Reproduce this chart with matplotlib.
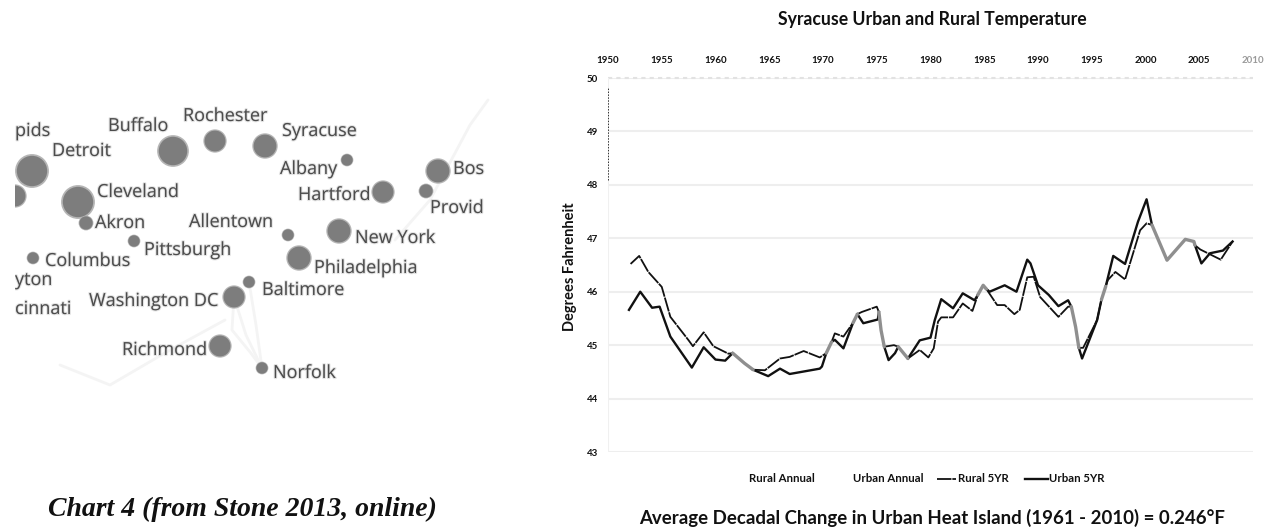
import numpy as np
import matplotlib
matplotlib.use("Agg")
import matplotlib.pyplot as plt
import matplotlib.patheffects as pe

W, H = 1273, 527
nan = np.nan

# left panel, base map positions
city_x = [32, 15, 173, 215, 78, 86, 134, 33, 234, 220, 265, 347, 383, 438, 426, 288, 339, 299, 249, 262]
city_y = [171, 196, 151, 141, 202, 223, 241, 258, 297, 346, 146, 160, 192, 171, 191, 235, 231, 258, 282, 368]
city_r = [16, 11, 15, 11, 16, 7, 6, 6, 11, 11, 12, 6, 11, 12, 7, 6, 12, 12, 6, 6]
label_names = ["pids", "Detroit", "Buffalo", "Rochester", "Syracuse", "Albany", "Hartford", "Bos",
               "Provid", "Cleveland", "Akron", "Allentown", "Pittsburgh", "Columbus", "yton",
               "cinnati", "Washington DC", "Baltimore", "New York", "Philadelphia", "Richmond", "Norfolk"]
label_x = [15, 52, 108, 183, 282, 280, 298, 453, 430, 97, 95, 189, 144, 45, 15, 15, 89, 262, 355, 314, 122, 273]
label_y = [131, 151, 126, 116, 131, 169, 195, 169, 208, 192, 223, 222, 250, 261, 280, 309, 301, 290, 238, 268, 350, 373]
river_x = [[234, 246, 262], [234, 232, 250, 262], [249, 256, 262], [60, 110, 170, 225], [395, 430, 470, 488]]
river_y = [[297, 335, 368], [297, 330, 352, 368], [282, 325, 368], [365, 385, 350, 320], [240, 200, 125, 100]]

# right panel
years = np.arange(1950, 2011, 5)
temps = np.arange(43, 51)
rural_year = [1952.1, 1952.9, 1953.75, 1955.0, 1955.8, 1957.5, 1957.9, 1958.9, 1959.8, 1961.2, 1961.6, nan,
              1963.5, 1964.6, 1966, 1966.9, 1968.2, 1969.7, 1970.3, nan,
              1970.8, 1971.1, 1971.9, 1972.8, nan, 1973.2, 1973.6, 1975, 1975.2, nan,
              1975.7, 1976.6, 1977, nan, 1977.9, 1979, 1979.8, 1980.3, 1980.7, 1981, 1982.1, 1983, 1983.9, 1984.4, nan,
              1985.2, 1986.2, 1986.9, 1987.8, 1988.3, 1989, 1989.6, 1990.2, 1991.9, 1992.8, 1993.1, nan,
              1993.8, 1994.2, 1995.5, 1995.9, nan,
              1996.3, 1996.5, 1997.2, 1998.1, 1999.5, 2000.1, 2000.6, nan,
              2004.6, 2005.1, 2007, 2008.1]
rural_temp = [46.52, 46.67, 46.37, 46.09, 45.53, 45.09, 44.98, 45.24, 44.98, 44.84, 44.85, nan,
              44.54, 44.53, 44.75, 44.78, 44.89, 44.77, 44.85, nan,
              45.06, 45.22, 45.16, 45.42, nan, 45.58, 45.62, 45.72, 45.62, nan,
              44.97, 45.0, 44.97, nan, 44.75, 44.91, 44.77, 44.94, 45.44, 45.52, 45.52, 45.78, 45.64, 45.94, nan,
              46.05, 45.75, 45.75, 45.58, 45.66, 46.27, 46.28, 45.9, 45.53, 45.72, 45.72, nan,
              44.95, 44.95, 45.47, 45.85, nan,
              46.1, 46.22, 46.37, 46.23, 47.15, 47.28, 47.25, nan,
              46.87, 46.79, 46.6, 46.94]
urban_year = [1951.95, 1953, 1954.1, 1954.8, 1955.8, 1957.8, 1958.9, 1960, 1960.9, 1961.6, nan,
              1963.5, 1964.9, 1966, 1966.9, 1969.7, 1969.9, 1970.3, nan,
              1970.8, 1971.1, 1971.9, 1972.8, nan, 1973.2, 1973.75, 1975.1, 1975.2, nan,
              1975.7, 1976.1, 1976.7, 1977, nan, 1977.9, 1979, 1980, 1980.4, 1981, 1982.1, 1983, 1984.1, 1984.4, nan,
              1985.2, 1985.5, 1986.9, 1988, 1989, 1989.3, 1990, 1991, 1991.9, 1992.8, 1993.1, nan,
              1993.8, 1994.1, 1995.5, 1995.9, nan,
              1996.3, 1997, 1998.1, 1999.3, 2000.1, 2000.6, nan,
              2004.6, 2005.2, 2006, 2007.2, 2008.1]
urban_temp = [45.66, 46.0, 45.70, 45.72, 45.16, 44.58, 44.96, 44.73, 44.71, 44.85, nan,
              44.54, 44.42, 44.56, 44.46, 44.56, 44.6, 44.85, nan,
              45.06, 45.1, 44.94, 45.42, nan, 45.58, 45.41, 45.48, 45.62, nan,
              44.97, 44.72, 44.85, 44.97, nan, 44.75, 45.09, 45.14, 45.47, 45.86, 45.69, 45.97, 45.84, 45.94, nan,
              46.05, 46.0, 46.12, 46.0, 46.6, 46.53, 46.12, 45.94, 45.73, 45.84, 45.72, nan,
              44.95, 44.75, 45.47, 45.85, nan,
              46.1, 46.67, 46.52, 47.31, 47.73, 47.25, nan,
              46.87, 46.53, 46.72, 46.77, 46.94]
# stretches where the two curves run together
both_year = [1961.6, 1962.7, 1963.5, nan, 1970.3, 1970.8, nan, 1972.8, 1973.2, nan, 1975.2, 1975.4, 1975.7, nan,
             1977, 1977.9, nan, 1984.4, 1984.9, 1985.2, nan, 1993.1, 1993.5, 1993.8, nan, 1995.9, 1996.3, nan,
             2000.6, 2002, 2003.7, 2004.5, 2004.6]
both_temp = [44.85, 44.66, 44.54, nan, 44.85, 45.06, nan, 45.42, 45.58, nan, 45.62, 45.28, 44.97, nan,
             44.97, 44.75, nan, 45.94, 46.12, 46.05, nan, 45.72, 45.34, 44.95, nan, 45.85, 46.1, nan,
             47.25, 46.59, 46.98, 46.94, 46.87]

BOLD = dict(family=["Lato", "DejaVu Sans"], fontweight="bold", color="#111111")
DASH = (0, (8, 0.5))

fig = plt.figure(figsize=(W / 100, H / 100), dpi=100)


def px_axes(left, top, right, bottom):
    return fig.add_axes([left / W, 1 - bottom / H, (right - left) / W, (bottom - top) / H])


# scanned map on the left
m = px_axes(15, 90, 490, 400)
m.set_xlim(15, 490)
m.set_ylim(400, 90)
m.axis("off")
for xs, ys in zip(river_x, river_y):
    m.plot(xs, ys, color="#f4f4f4", lw=2, solid_capstyle="round")
sizes = (2 * np.array(city_r) * 0.72) ** 2
m.scatter(city_x, city_y, s=sizes * 1.12, color="#b5b5b5", linewidths=0, zorder=3)
m.scatter(city_x, city_y, s=sizes * 0.9, color="#7d7d7d", linewidths=0, zorder=4)
for name, x, y in zip(label_names, label_x, label_y):
    m.text(x, y, name, ha="left", va="center", fontsize=13, color="#4c4c4c", family="Open Sans", zorder=5,
           clip_on=True, path_effects=[pe.withStroke(linewidth=1.6, foreground="#c8c8c8", alpha=0.5)])

# temperature chart
ax = px_axes(608, 78, 1253, 452)
ax.set_xlim(1950, 2010)
ax.set_ylim(43, 50)
for s in ax.spines.values():
    s.set_visible(False)
ax.tick_params(length=0)
ax.set_xticks(years)
ax.xaxis.tick_top()
ax.set_xticklabels([str(y) for y in years], fontsize=7, **BOLD)
ax.get_xticklabels()[-1].set_color("#9a9a9a")
ax.tick_params(axis="x", pad=9.5)
ax.set_yticks(temps)
ax.set_yticklabels([str(t) for t in temps], fontsize=7, **BOLD)
ax.tick_params(axis="y", pad=7)
ax.grid(axis="y", color="#eeeeee", lw=1.5)
ax.axhline(50, color="#e2e2e2", lw=1.5, ls=(0, (2, 2)), clip_on=False)
ax.axvline(1950, color="#f0f0f0", lw=1.5)
ax.plot([1950, 1950], [48.1, 49.83], color="#333333", lw=0.7, ls=(0, (1.5, 1.5)))
ax.plot(rural_year, rural_temp, color="#111111", lw=1.3, ls=DASH, label="Rural 5YR")
ax.plot(urban_year, urban_temp, color="#111111", lw=1.7, label="Urban 5YR")
ax.plot(both_year, both_temp, color="#8f8f8f", lw=2.4, solid_capstyle="round")

# page level text, in reference pixels
page = px_axes(0, 0, W, H)
page.set_xlim(0, W)
page.set_ylim(H, 0)
page.axis("off")
page.patch.set_alpha(0)
page.text(932, 19, "Syracuse Urban and Rural Temperature", ha="center", va="center", fontsize=12.7, **BOLD)
page.text(570, 267, "Degrees Fahrenheit", ha="center", va="center", rotation=90, fontsize=10.5, **BOLD)
page.text(749, 479, "Rural Annual", ha="left", va="center", fontsize=8.2, **BOLD)
page.text(853, 479, "Urban Annual", ha="left", va="center", fontsize=8.2, **BOLD)
page.plot([937, 956], [479, 479], color="#111111", lw=1.3, ls=DASH)
page.text(958, 479, "Rural 5YR", ha="left", va="center", fontsize=8.2, **BOLD)
page.plot([1025, 1048], [479, 479], color="#111111", lw=1.7)
page.text(1049, 479, "Urban 5YR", ha="left", va="center", fontsize=8.2, **BOLD)
page.text(932, 518, "Average Decadal Change in Urban Heat Island (1961 - 2010) = 0.246\u00b0F", ha="center",
          va="center", fontsize=13.4, **BOLD)
page.text(48, 509, "Chart 4 (from Stone 2013, online)", ha="left", va="center", fontsize=20,
          family="Liberation Serif", fontweight="bold", fontstyle="italic", color="#111111")

fig.savefig("out.png", dpi=100)
